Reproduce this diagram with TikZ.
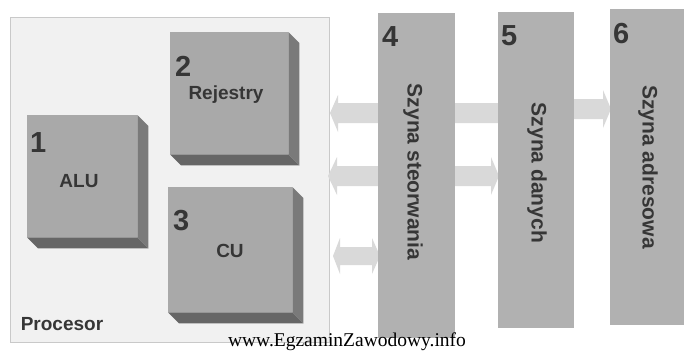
\documentclass[tikz,border=0pt]{standalone}
\usepackage{fontspec}
\setmainfont{Liberation Serif}
\setsansfont{Liberation Sans}
\usetikzlibrary{positioning}

\definecolor{procfill}{HTML}{F1F1F1}
\definecolor{procline}{HTML}{C9C9C9}
\definecolor{facegray}{HTML}{A9A9A9}
\definecolor{sidegray}{HTML}{7A7A7A}
\definecolor{bottomgray}{HTML}{666666}
\definecolor{busgray}{HTML}{B1B1B1}
\definecolor{arrowgray}{HTML}{D9D9D9}
\definecolor{textgray}{HTML}{363636}

\begin{document}
\begin{tikzpicture}[x=1pt,y=-1pt,
    face/.style={fill=facegray, inner sep=0pt, anchor=north west},
    bus/.style={fill=busgray, inner sep=0pt, anchor=north west},
    num/.style={font=\sffamily\bfseries\fontsize{29}{29}\selectfont, text=textgray, inner sep=0pt, anchor=north west},
    lbl/.style={font=\sffamily\bfseries\fontsize{19}{19}\selectfont, text=textgray, inner sep=0pt, anchor=base},
    buslbl/.style={font=\sffamily\bfseries\fontsize{21}{21}\selectfont, text=textgray, inner sep=0pt, rotate=-90},
    blockarrow/.style={fill=arrowgray, draw=none}]
    \useasboundingbox[fill=white] (0,0) rectangle (689,351);

    % Processor background
    \node[draw=procline, fill=procfill, minimum width=319pt, minimum height=325pt,
          inner sep=0pt, anchor=north west] (proc) at (10,17) {};

    % Blocks inside the processor (front faces)
    \node[face, minimum width=110pt, minimum height=122pt] (alu) at (27,115) {};
    \node[face, minimum width=118pt, minimum height=122pt] (rej) at (170,32) {};
    \node[face, minimum width=124pt, minimum height=125pt] (cu) at (168,187) {};

    % Depth of the blocks (right and bottom sides)
    \foreach \b in {alu, rej, cu} {
        \fill[sidegray] (\b.north east) -- ([shift={(11,11)}]\b.north east)
            -- ([shift={(11,11)}]\b.south east) -- (\b.south east) -- cycle;
        \fill[bottomgray] (\b.south west) -- (\b.south east)
            -- ([shift={(11,11)}]\b.south east) -- ([shift={(11,11)}]\b.south west) -- cycle;
    }

    % Block arrows (behind the buses)
    \fill[blockarrow] (330,113) -- (338,95) -- (338,103) -- (498,103) -- (498,123)
        -- (338,123) -- (338,132) -- cycle;
    \fill[blockarrow] (574,99) -- (603,99) -- (603,90) -- (611,109) -- (603,128)
        -- (603,119) -- (574,119) -- cycle;
    \fill[blockarrow] (328,176) -- (337,157) -- (337,166) -- (491,166) -- (491,157)
        -- (499,176) -- (491,195) -- (491,186) -- (337,186) -- (337,195) -- cycle;
    \fill[blockarrow] (333,256) -- (340,238) -- (340,247) -- (372,247) -- (372,238)
        -- (380,256) -- (372,274) -- (372,265) -- (340,265) -- (340,274) -- cycle;

    % Buses
    \node[bus, minimum width=77pt, minimum height=325pt] (bus4) at (378,13) {};
    \node[bus, minimum width=76pt, minimum height=316pt] (bus5) at (498,12) {};
    \node[bus, minimum width=74pt, minimum height=316pt] (bus6) at (610,9) {};

    % Numbers
    \node[num] (n1) at (30,132) {1};
    \node[num] (n2) at (175,56) {2};
    \node[num] (n3) at (173,210) {3};
    \node[num] (n4) at (382,26) {4};
    \node[num] (n5) at (501,25) {5};
    \node[num] (n6) at (613,23) {6};

    % Labels
    \node[lbl] (talu) at (79,187) {ALU};
    \node[lbl] (trej) at (226,99) {Rejestry};
    \node[lbl] (tcu) at (230,257) {CU};
    \node[lbl] (tproc) at (62,330) {Procesor};
    \node[buslbl] (t4) at (413,172) {Szyna steorwania};
    \node[buslbl] (t5) at (537,173) {Szyna danych};
    \node[buslbl] (t6) at (648,167) {Szyna adresowa};

    % Watermark
    \node[font=\fontsize{19.5}{19.5}\selectfont, text=black, inner sep=0pt, anchor=base]
        (www) at (347,346) {www.EgzaminZawodowy.info};
\end{tikzpicture}
\end{document}
